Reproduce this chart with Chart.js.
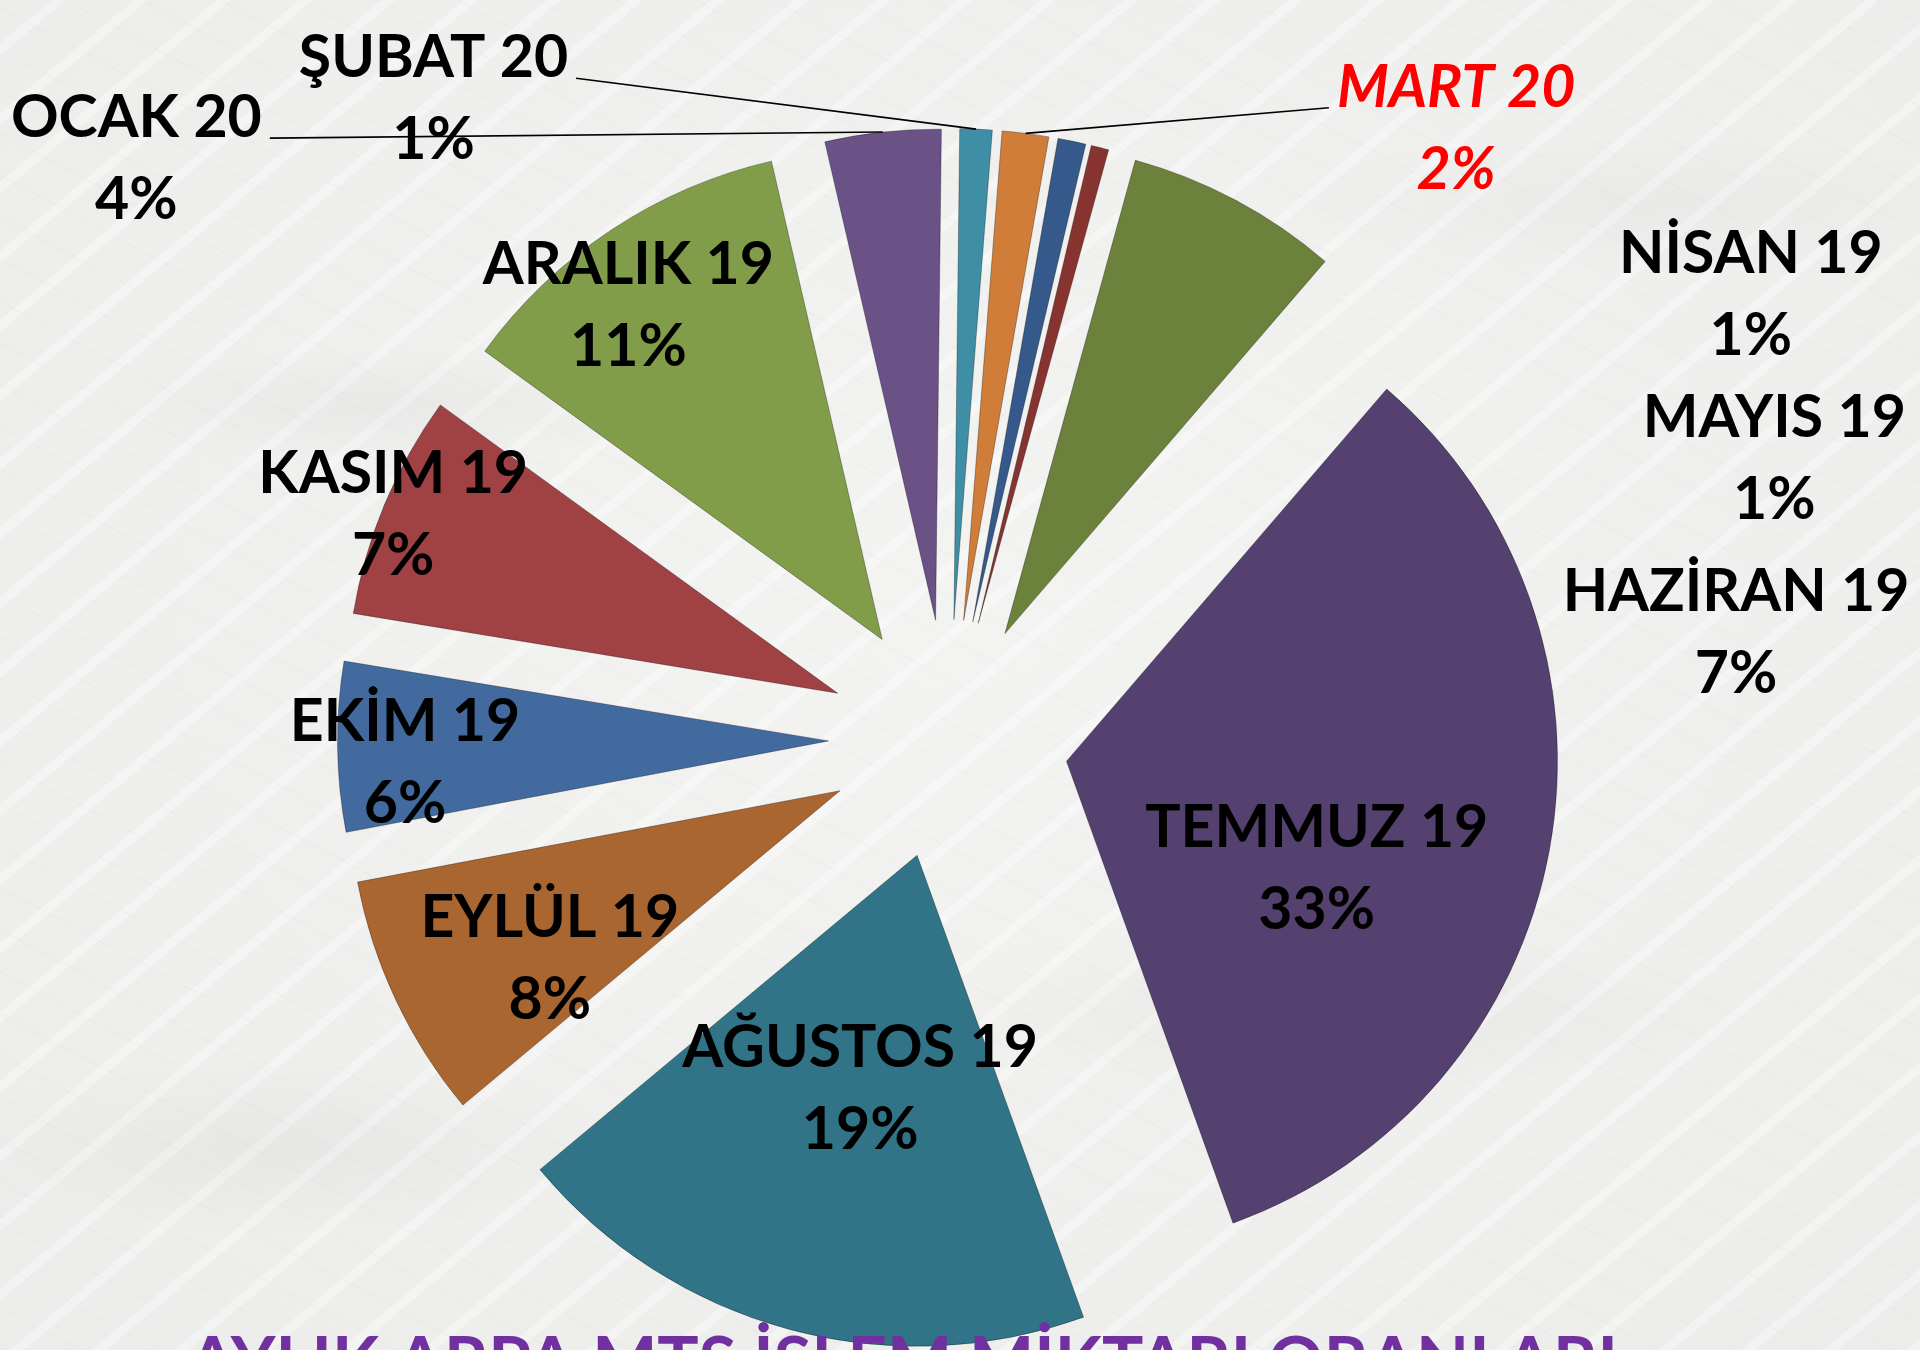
<!DOCTYPE html>
<html lang="tr">
<head>
    <meta charset="UTF-8">
    <title>Aylık Arpa MTS İşlem Miktarı Oranları</title>
    <script src="https://cdn.jsdelivr.net/npm/chart.js"></script>
    <style>
        html, body {
            margin: 0;
            padding: 0;
            overflow: hidden;
        }
        body {
            width: 1920px;
            height: 1350px;
            background-color: #efefee;
            background-image:
                radial-gradient(ellipse 300px 60px at 20% 30%, rgba(0,0,0,0.03), transparent),
                radial-gradient(ellipse 420px 80px at 70% 75%, rgba(0,0,0,0.03), transparent),
                radial-gradient(ellipse 380px 70px at 85% 15%, rgba(0,0,0,0.025), transparent),
                radial-gradient(ellipse 350px 90px at 15% 85%, rgba(0,0,0,0.03), transparent),
                repeating-linear-gradient(28deg, rgba(0,0,0,0.012) 0 2px, transparent 2px 37px),
                repeating-linear-gradient(-40deg, rgba(255,255,255,0.35) 0 9px, transparent 9px 53px),
                radial-gradient(ellipse at 50% 45%, #f3f3f2 0%, #ececeb 100%);
        }
        #chart {
            display: block;
        }
    </style>
</head>
<body>
    <canvas id="chart" width="1920" height="1350"></canvas>

    <script>
        // Aylar (Nisan 2019 - Mart 2020)
        const months = ['NİSAN 19', 'MAYIS 19', 'HAZİRAN 19', 'TEMMUZ 19', 'AĞUSTOS 19', 'EYLÜL 19',
                        'EKİM 19', 'KASIM 19', 'ARALIK 19', 'OCAK 20', 'ŞUBAT 20', 'MART 20'];

        // İşlem miktarı oranları (%)
        const shares = [0.92, 0.58, 7.03, 33.19, 19.45, 8.08, 5.58, 7.39, 11.39, 3.81, 1.06, 1.53];

        const sliceColors = ['#35598a', '#873431', '#6c823c', '#554170', '#317487', '#aa6630',
                             '#436a9e', '#a04143', '#829d4a', '#6a5287', '#3e8fa6', '#d07d3a'];

        const chartTitle = 'AYLIK ARPA MTS İŞLEM MİKTARI ORANLARI';
        const highlightMonth = 'MART 20';

        // etiket yerleri: merkeze göre, yarıçap cinsinden
        const labelSpots = [
            [1.634, -0.910], [1.682, -0.575], [1.604, -0.220], [0.750, 0.259],
            [-0.180, 0.707], [-0.812, 0.443], [-1.107, 0.043], [-1.131, -0.462],
            [-0.652, -0.887], [-1.654, -1.186], [-1.049, -1.308], [1.034, -1.248]
        ];
        const leaderLines = ['OCAK 20', 'ŞUBAT 20', 'MART 20'];

        // dilimleri merkezden dışarı it
        const explodePlugin = {
            id: 'explode',
            afterDatasetUpdate(chart, args, opts) {
                const d = opts.distance || 0;
                args.meta.data.forEach(arc => {
                    const mid = (arc.startAngle + arc.endAngle) / 2;
                    arc.x += Math.cos(mid) * d;
                    arc.y += Math.sin(mid) * d;
                });
            }
        };

        const labelPlugin = {
            id: 'sliceLabels',
            afterDatasetsDraw(chart) {
                const ctx = chart.ctx;
                const meta = chart.getDatasetMeta(0);
                const area = chart.chartArea;
                const cx = (area.left + area.right) / 2;
                const cy = (area.top + area.bottom) / 2;
                const r = meta.data[0].outerRadius;
                const total = shares.reduce((a, b) => a + b, 0);
                const lineGap = 82, capH = 42;

                ctx.save();
                ctx.textAlign = 'center';
                ctx.textBaseline = 'alphabetic';
                meta.data.forEach((arc, i) => {
                    const name = months[i];
                    const pct = Math.round(shares[i] / total * 100) + '%';
                    const ax = cx + labelSpots[i][0] * r;
                    const ay = cy + labelSpots[i][1] * r;
                    const base1 = ay - lineGap / 2 + capH / 2;
                    const special = name === highlightMonth;
                    ctx.font = (special ? 'italic ' : '') + 'bold 59px Lato';
                    ctx.fillStyle = special ? '#ff0000' : '#000000';

                    if (leaderLines.includes(name)) {
                        const mid = (arc.startAngle + arc.endAngle) / 2;
                        const tx = arc.x + Math.cos(mid) * arc.outerRadius;
                        const ty = arc.y + Math.sin(mid) * arc.outerRadius;
                        const w = ctx.measureText(name).width;
                        const sx = ax < tx ? ax + w / 2 + 8 : ax - w / 2 - 8;
                        ctx.beginPath();
                        ctx.moveTo(sx, base1 + 1);
                        ctx.lineTo(tx, ty);
                        ctx.lineWidth = 1.6;
                        ctx.strokeStyle = '#000000';
                        ctx.stroke();
                    }

                    ctx.fillText(name, ax, base1);
                    ctx.fillText(pct, ax, base1 + lineGap);
                });
                ctx.restore();
            },
            afterDraw(chart) {
                const ctx = chart.ctx;
                ctx.save();
                ctx.font = 'bold 69px Lato';
                ctx.fillStyle = '#7030a0';
                ctx.textAlign = 'center';
                ctx.textBaseline = 'alphabetic';
                ctx.fillText(chartTitle, 903, 1386);
                ctx.restore();
            }
        };

        new Chart(document.getElementById('chart'), {
            type: 'pie',
            data: {
                labels: months,
                datasets: [{
                    data: shares,
                    backgroundColor: sliceColors,
                    borderColor: 'rgba(0,0,0,0.3)',
                    borderWidth: 1
                }]
            },
            options: {
                responsive: false,
                animation: false,
                events: [],
                rotation: 10,
                radius: 491,
                layout: {
                    padding: { left: 0, right: 23, top: 129, bottom: 0 }
                },
                plugins: {
                    legend: { display: false },
                    tooltip: { enabled: false },
                    explode: { distance: 120 }
                }
            },
            plugins: [explodePlugin, labelPlugin]
        });
    </script>
</body>
</html>
